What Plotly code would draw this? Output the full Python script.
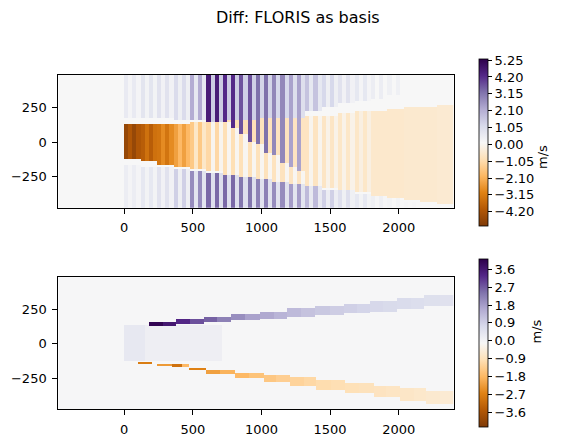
import numpy as np
import plotly.graph_objects as go

# ---------------- top panel: striped wake, one value per 120 m station ----------------
station_x = [-120, 0, 120, 240, 360, 480, 600, 720, 840, 960, 1080,
             1200, 1320, 1440, 1560, 1680, 1800, 1920, 2040, 2160, 2280]
wake_top = [0, 130, 133, 137, 140, 148, 155, 162, 168, 174, 180,
            186, 192, 200, 208, 218, 232, 240, 248, 257, 266]
wake_bot = [0, -125, -140, -158, -180, -198, -216, -236, -252, -268, -282,
            -296, -314, -334, -348, -364, -384, -402, -420, -432, -444]
wake_strip = [0, -4.6, -3.9, -3.3, -2.4, -1.5, -1.1, -0.9, -0.85, -0.8, -0.75,
              -0.7, -0.7, -0.65, -0.6, -0.6, -0.55, -0.55, -0.5, -0.5, -0.45]
wake_gap = [0, -4.1, -3.4, -2.8, -1.9, -0.6, 0.0, 0.05, 0.05, 0.05, 0.05,
            0.05, 0.0, -0.1, -0.1, -0.2, -0.55, -0.55, -0.5, -0.5, -0.45]
top_strip = [0.15, 0.6, 0.8, 0.9, 1.1, 2.2, 4.6, 4.3, 3.7, 3.3, 2.9,
             2.4, 1.7, 1.2, 0.9, 0.7, 0.5, 0.4, 0.15, 0.15, 0.15]
top_gap = [0.15, 0.25, 0.3, 0.35, 0.45, 0.7, 1.5, 1.5, 1.4, 1.3, 1.2,
           1.0, 0.7, 0.45, 0.35, 0.25, 0.15, 0.15, 0.15, 0.15, 0.15]
top_lo = [490, 185, 180, 175, 170, 165, 0, 0, 0, 0, 0,
          0, 230, 260, 280, 300, 320, 340, 490, 490, 490]
bot_strip = [0.15, 0.5, 0.7, 0.9, 1.4, 2.8, 3.4, 3.4, 3.2, 3.0, 2.8,
             2.5, 1.9, 1.4, 1.0, 0.7, 0.45, 0.3, 0.2, 0.15, 0.15]
bot_gap = [0.15, 0.25, 0.3, 0.35, 0.45, 0.8, 1.0, 1.0, 1.0, 0.9, 0.9,
           0.8, 0.65, 0.5, 0.4, 0.3, 0.2, 0.15, 0.15, 0.15, 0.15]
bot_hi = [-490, -160, -175, -185, -195, -205, -222, -240, -256, -272, -286,
          -300, -318, -338, -352, -368, -390, -405, -430, -440, -450]
top_background = 0.15

# purple stripes cutting down into the wake (one per stripe)
cut_x = [600, 660, 720, 780, 840, 900, 960, 1020, 1080, 1140, 1200, 1260]
cut_end = [230, 175, 150, 100, 65, 5, -20, -70, -95, -145, -180, -205]

# ---------------- bottom panel: blocks of the two shear layers ----------------
up_x0 = [180, 280, 380, 480, 580, 680, 780, 880, 990, 1090, 1190,
         1290, 1390, 1500, 1600, 1700, 1790, 1890, 1990, 2090, 2190, 2300]
up_x1 = [280, 380, 480, 580, 680, 780, 880, 990, 1090, 1190, 1290,
         1390, 1500, 1600, 1700, 1790, 1890, 1990, 2090, 2190, 2300, 2400]
up_lo = [132, 132, 138, 138, 155, 155, 168, 168, 180, 180, 196,
         196, 208, 208, 220, 220, 232, 232, 249, 249, 268, 268]
up_hi = [158, 158, 178, 178, 196, 196, 215, 215, 232, 232, 257,
         257, 276, 276, 292, 292, 309, 309, 329, 329, 357, 357]
up_val = [4.0, 3.6, 3.3, 2.8, 2.6, 2.2, 2.0, 1.7, 1.6, 1.4, 1.3,
          1.15, 1.05, 0.95, 0.9, 0.8, 0.75, 0.7, 0.65, 0.6, 0.55, 0.5]

lo_x0 = [105, 240, 350, 420, 470, 600, 700, 810, 910, 1016, 1110, 1210,
         1310, 1404, 1510, 1610, 1710, 1817, 1910, 2010, 2110, 2205, 2300]
lo_x1 = [200, 350, 420, 470, 600, 700, 810, 910, 1016, 1110, 1210, 1310,
         1404, 1510, 1610, 1710, 1817, 1910, 2010, 2110, 2205, 2300, 2400]
lo_lo = [-146, -158, -172, -172, -194, -222, -222, -250, -250, -280, -280, -304,
         -304, -335, -335, -359, -359, -391, -391, -420, -420, -440, -440]
lo_hi = [-128, -143, -148, -150, -173, -190, -190, -208, -208, -227, -227, -246,
         -246, -263, -263, -287, -287, -304, -304, -323, -323, -347, -347]
lo_val = [-2.8, -2.3, -3.0, -1.8, -2.7, -2.2, -1.9, -1.8, -1.6, -1.5, -1.35, -1.25,
          -1.15, -1.05, -1.0, -0.95, -0.9, -0.85, -0.8, -0.75, -0.7, -0.65, -0.6]

core_x0 = [0, 150]
core_x1 = [150, 710]
core_lo = [-126, -126]
core_hi = [135, 135]
core_val = [0.3, 0.12]
bottom_background = -0.1

top_ticks = [-4.2, -3.15, -2.1, -1.05, 0.0, 1.05, 2.1, 3.15, 4.2, 5.25]
bot_ticks = [-3.6, -2.7, -1.8, -0.9, 0.0, 0.9, 1.8, 2.7, 3.6]

PUOR = ["#7f3b08", "#b35806", "#e08214", "#fdb863", "#fee0b6", "#f7f7f7",
        "#d8daeb", "#b2abd2", "#8073ac", "#542788", "#2d004b"]
colorscale = [[i / 10, c] for i, c in enumerate(PUOR)]

# --- build the top grid (30 m cells in x, 15 m in y) ---
xe_top = np.arange(-480, 2400, 30)
xc_top = xe_top + 15
yc_top = np.arange(-480, 495, 15) + 7.5
z_top = np.full((len(yc_top), len(xc_top)), top_background)

for j, e in enumerate(xe_top):
    if e < station_x[0]:
        continue
    i = (e - station_x[0]) // 120
    strip = (e // 30) % 2 == 0
    cut = None
    if strip and e in cut_x:
        cut = cut_end[cut_x.index(e)]
    elif not strip and (e - 30) in cut_x:
        cut = cut_end[cut_x.index(e - 30)]
    for k, y in enumerate(yc_top):
        if wake_bot[i] <= y <= wake_top[i]:
            if cut is not None and strip:
                v = top_strip[i] if y > cut else wake_strip[i]
            elif cut is not None:
                v = wake_strip[i] if y > cut else wake_gap[i]
            else:
                v = wake_strip[i] if strip else wake_gap[i]
        elif y > wake_top[i]:
            v = (top_strip[i] if strip else top_gap[i]) if y >= top_lo[i] else top_background
        else:
            v = (bot_strip[i] if strip else bot_gap[i]) if y <= bot_hi[i] else top_background
        z_top[k, j] = v

# --- build the bottom grid (10 m cells in x, 5 m in y) ---
xc_bot = np.arange(-480, 2400, 10) + 5
yc_bot = np.arange(-480, 485, 5) + 2.5
z_bot = np.full((len(yc_bot), len(xc_bot)), bottom_background)
for x0s, x1s, los, his, vals in [(core_x0, core_x1, core_lo, core_hi, core_val),
                                 (up_x0, up_x1, up_lo, up_hi, up_val),
                                 (lo_x0, lo_x1, lo_lo, lo_hi, lo_val)]:
    for x0, x1, lo, hi, v in zip(x0s, x1s, los, his, vals):
        rows = (yc_bot >= lo) & (yc_bot < hi)
        cols = (xc_bot >= x0) & (xc_bot < x1)
        z_bot[np.ix_(rows, cols)] = v

# page body has an 8px margin, so the figure is 8px smaller and shifted
W, H, OFF = 561, 435, 8


def px(X):
    return (X - OFF) / W


def py(Y):
    return 1 - (Y - OFF) / H


def fmt(v, nd):
    return f"{v:.{nd}f}".replace("-", "\u2212")


tick_font = dict(family="DejaVu Sans", size=13, color="black")


def cbar(ticks, nd, y0, y1):
    return dict(
        x=px(479.3), xanchor="left", xpad=0,
        y=py((y0 + y1) / 2), yanchor="middle", ypad=0,
        len=(y1 - y0) / H, lenmode="fraction", thickness=9, thicknessmode="pixels",
        outlinewidth=0.8, outlinecolor="black",
        tickvals=ticks, ticktext=[fmt(t, nd) for t in ticks],
        ticks="outside", ticklen=4, tickcolor="black",
        tickfont=tick_font,
    )


fig = go.Figure()
fig.add_trace(go.Heatmap(
    x=xc_top, y=yc_top, z=z_top, zmin=-5.06, zmax=5.35,
    colorscale=colorscale, zsmooth=False, colorbar=cbar(top_ticks, 2, 58.3, 225.7),
    xaxis="x", yaxis="y", hoverinfo="skip",
))
fig.add_trace(go.Heatmap(
    x=xc_bot, y=yc_bot, z=z_bot, zmin=-4.37, zmax=4.11,
    colorscale=colorscale, zsmooth=False, colorbar=cbar(bot_ticks, 1, 259.3, 427.3),
    xaxis="x2", yaxis="y2", hoverinfo="skip",
))

axis_common = dict(showline=True, linecolor="black", linewidth=1, mirror=True,
                   ticks="outside", ticklen=5, tickcolor="black",
                   showgrid=False, zeroline=False, tickfont=tick_font,
                   ticklabelstandoff=3)
xticks = [0, 500, 1000, 1500, 2000]
yticks = [-250, 0, 250]

fig.update_layout(
    width=W, height=H,
    margin=dict(l=0, r=0, t=0, b=0),
    paper_bgcolor="white", plot_bgcolor="white",
    font=dict(family="DejaVu Sans", color="black"),
    title=dict(text="Diff: FLORIS as basis", x=px(297.8), xanchor="center",
               y=py(17.5), yanchor="middle",
               font=dict(family="DejaVu Sans", size=16, color="black")),
    xaxis=dict(domain=[px(58.3), px(454.3)], range=[-480, 2405], anchor="y",
               tickvals=xticks, ticktext=[str(t) for t in xticks], **axis_common),
    yaxis=dict(domain=[py(207.7), py(75)], range=[-477, 490], anchor="x",
               tickvals=yticks, ticktext=[fmt(t, 0) for t in yticks], **axis_common),
    xaxis2=dict(domain=[px(58.3), px(454.3)], range=[-480, 2405], anchor="y2",
                tickvals=xticks, ticktext=[str(t) for t in xticks], **axis_common),
    yaxis2=dict(domain=[py(409), py(277.3)], range=[-473, 481], anchor="x2",
                tickvals=yticks, ticktext=[fmt(t, 0) for t in yticks], **axis_common),
    annotations=[
        dict(text="m/s", textangle=-90, x=px(552.5), y=py(143),
             xref="paper", yref="paper", showarrow=False,
             font=dict(family="DejaVu Sans", size=13, color="black")),
        dict(text="m/s", textangle=-90, x=px(545), y=py(346),
             xref="paper", yref="paper", showarrow=False,
             font=dict(family="DejaVu Sans", size=13, color="black")),
    ],
)

fig.write_html("out.html")
